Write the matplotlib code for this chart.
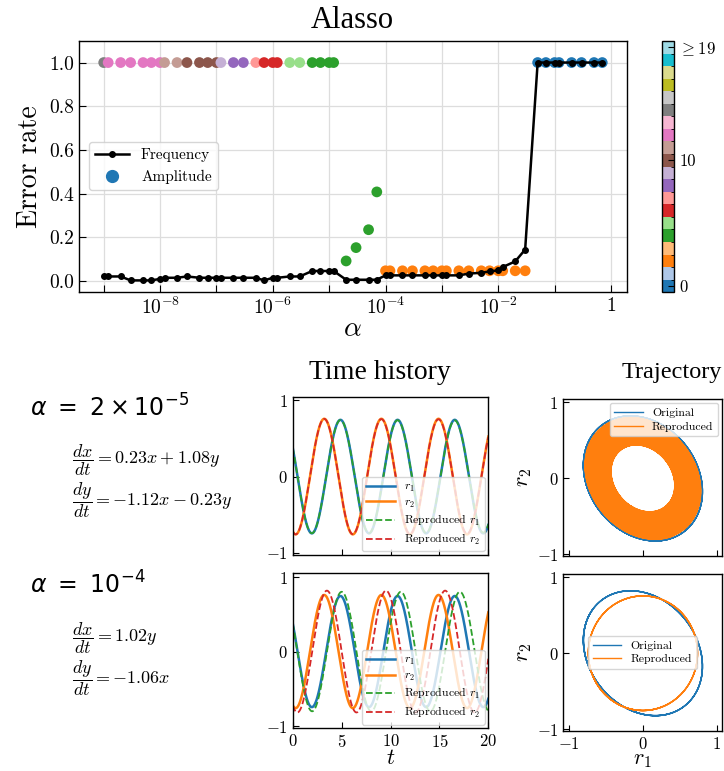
import numpy as np
import matplotlib
matplotlib.use('Agg')
import matplotlib.pyplot as plt
from matplotlib.colors import BoundaryNorm
from matplotlib.cm import ScalarMappable
from matplotlib.lines import Line2D
from matplotlib.ticker import FixedLocator, FixedFormatter

plt.rcParams['font.family'] = 'serif'
plt.rcParams['font.serif'] = ['cmr10']
plt.rcParams['mathtext.fontset'] = 'cm'
plt.rcParams['axes.formatter.use_mathtext'] = True
plt.rcParams['xtick.direction'] = 'in'
plt.rcParams['ytick.direction'] = 'in'
plt.rcParams['axes.linewidth'] = 1.0

# ---- error rate vs alpha ----
alphas = [1e-9, 1.2e-9, 2e-9, 3e-9, 5e-9, 7e-9,
          1e-8, 1.2e-8, 2e-8, 3e-8, 5e-8, 7e-8,
          1e-7, 1.2e-7, 2e-7, 3e-7, 5e-7, 7e-7,
          1e-6, 1.2e-6, 2e-6, 3e-6, 5e-6, 7e-6,
          1e-5, 1.2e-5, 2e-5, 3e-5, 5e-5, 7e-5,
          1e-4, 1.2e-4, 2e-4, 3e-4, 5e-4, 7e-4,
          1e-3, 1.2e-3, 2e-3, 3e-3, 5e-3, 7e-3,
          1e-2, 1.2e-2, 2e-2, 3e-2, 5e-2, 7e-2,
          0.1, 0.12, 0.2, 0.3, 0.5, 0.7]
freq_err = [0.021, 0.021, 0.021, 0.003, 0.003, 0.003,
            0.010, 0.015, 0.015, 0.021, 0.015, 0.015,
            0.015, 0.015, 0.015, 0.015, 0.015, 0.003,
            0.015, 0.015, 0.021, 0.021, 0.046, 0.046,
            0.046, 0.046, 0.006, 0.006, 0.006, 0.006,
            0.026, 0.026, 0.026, 0.026, 0.026, 0.026,
            0.026, 0.026, 0.026, 0.034, 0.038, 0.044,
            0.049, 0.064, 0.090, 0.144, 1.0, 1.0,
            1.0, 1.0, 1.0, 1.0, 1.0, 1.0]
amp_err = [1.0] * 26 + [0.092, 0.153, 0.235, 0.408] + [0.047] * 16 + [1.0] * 8
# number of terms (colour class, tab20 index)
amp_cls = [14, 12, 12, 12, 12, 12,
           12, 11, 11, 10, 10, 10,
           10, 9, 8, 8, 7, 6,
           6, 6, 5, 5, 4, 4,
           4, 4, 4, 4, 4, 4,
           2, 2, 2, 2, 2, 2,
           2, 2, 2, 2, 2, 2,
           2, 2, 2, 2, 0, 0,
           0, 0, 0, 0, 0, 0]
cbar_ticks = [0, 10, 19]
cbar_labels = ['0', '10', r'$\geq$19']

# ---- identified models (coefficients as printed in the figure) ----
x_init = [0.38, -0.72]
orig_A = [[0.23, 1.08], [-1.12, -0.23]]
rep1_A = [[0.23, 1.08], [-1.12, -0.2312]]   # unrounded value, slow inward drift
rep2_A = [[0.0, 1.02], [-1.06, 0.0]]
# start points of the trajectory panels
traj_init_orig = [0.41, -0.78]
traj_init_rep1 = [0.40, -0.76]
traj_init_rep2 = [0.35, -0.665]
t_end = 20.0
t_end_traj = 1000.0


def solve_linear(A, x0, t):
    w, V = np.linalg.eig(np.array(A, dtype=float))
    c = np.linalg.solve(V, np.array(x0, dtype=complex))
    return (V @ (c[:, None] * np.exp(np.outer(w, t)))).real


t = np.arange(0, t_end + 0.005, 0.01)
t_long = np.arange(0, t_end_traj, 0.02)
orig = solve_linear(orig_A, x_init, t)
rep1 = solve_linear(rep1_A, x_init, t)
rep2 = solve_linear(rep2_A, x_init, t)
orig_tr = solve_linear(orig_A, traj_init_orig, t)
rep1_tr = solve_linear(rep1_A, traj_init_rep1, t_long)
rep2_tr = solve_linear(rep2_A, traj_init_rep2, t)

fig = plt.figure(figsize=(7.24, 7.71), dpi=100)

# ---- top: error rate ----
cmap = plt.get_cmap('tab20')
norm = BoundaryNorm(np.arange(-0.5, 20.5, 1), cmap.N)

ax = fig.add_axes([0.1087, 0.6213, 0.7569, 0.3259])
ax.scatter(alphas, amp_err, c=[cmap(norm(k)) for k in amp_cls], s=60, zorder=2, linewidths=0)
ax.plot(alphas, freq_err, '-o', color='k', lw=1.8, ms=4, zorder=3)
ax.set_xscale('log')
ax.set_xlim(3.6e-10, 1.9)
ax.set_ylim(-0.05, 1.1)
dec = [10.0 ** k for k in range(-9, 1)]
ax.xaxis.set_major_locator(FixedLocator(dec))
ax.xaxis.set_major_formatter(FixedFormatter(['', r'$10^{-8}$', '', r'$10^{-6}$', '', r'$10^{-4}$', '',
                                             r'$10^{-2}$', '', r'$1$']))
ax.xaxis.set_minor_locator(FixedLocator([]))
ax.set_yticks([0, 0.2, 0.4, 0.6, 0.8, 1.0])
ax.set_yticklabels(['0.0', '0.2', '0.4', '0.6', '0.8', '1.0'])
ax.tick_params(labelsize=14, length=5)
ax.grid(True, color='#dddddd', lw=0.9)
ax.set_axisbelow(True)
ax.set_ylabel('Error rate', fontsize=20)
ax.set_xlabel(r'$\alpha$', fontsize=20, labelpad=-2)
ax.set_title('Alasso', fontsize=22, family='Liberation Serif', pad=9)
handles = [Line2D([], [], color='k', marker='o', lw=1.8, ms=4),
           Line2D([], [], color='tab:blue', marker='o', lw=0, ms=8.5)]
ax.legend(handles, ['Frequency', 'Amplitude'], loc='center left', bbox_to_anchor=(0.005, 0.5),
          fontsize=11, handlelength=2.2)

cax = fig.add_axes([0.9139, 0.6209, 0.0174, 0.326])
cb = fig.colorbar(ScalarMappable(norm=norm, cmap=cmap), cax=cax, ticks=cbar_ticks)
cb.set_ticklabels(cbar_labels)
cb.ax.tick_params(labelsize=12, direction='in', length=4)

# ---- left text ----
fig.text(0.041, 1 - 408 / 771, r'$\alpha\ =\ 2\times10^{-5}$', fontsize=17, va='center',
         math_fontfamily='dejavusans')
fig.text(0.100, 1 - 460 / 771, r'$\dfrac{dx}{dt}=0.23x+1.08y$', fontsize=13, va='center')
fig.text(0.100, 1 - 500 / 771, r'$\dfrac{dy}{dt}=-1.12x-0.23y$', fontsize=13, va='center')
fig.text(0.041, 1 - 585 / 771, r'$\alpha\ =\ 10^{-4}$', fontsize=17, va='center',
         math_fontfamily='dejavusans')
fig.text(0.100, 1 - 638 / 771, r'$\dfrac{dx}{dt}=1.02y$', fontsize=13, va='center')
fig.text(0.100, 1 - 678 / 771, r'$\dfrac{dy}{dt}=-1.06x$', fontsize=13, va='center')

fig.text(380 / 724, 1 - 372 / 771, 'Time history', fontsize=20, family='Liberation Serif', ha='center', va='center')
fig.text(672 / 724, 1 - 372 / 771, 'Trajectory', fontsize=17.5, family='Liberation Serif', ha='center', va='center')

# ---- time history ----
th_rows = [(0.2802, 0.2053, rep1), (0.0554, 0.2010, rep2)]
for i, (b, h, rep) in enumerate(th_rows):
    a = fig.add_axes([0.4043, b, 0.2702, h])
    a.plot(t, orig[0], color='tab:blue', lw=1.8, label=r'$r_1$')
    a.plot(t, orig[1], color='tab:orange', lw=1.8, label=r'$r_2$')
    a.plot(t, rep[0], '--', color='tab:green', lw=1.3, label=r'Reproduced $r_1$')
    a.plot(t, rep[1], '--', color='tab:red', lw=1.3, label=r'Reproduced $r_2$')
    a.set_xlim(0, 20)
    a.set_ylim(-1.03, 1.05)
    a.set_xticks([0, 5, 10, 15, 20])
    a.set_yticks([-1, 0, 1])
    a.tick_params(labelsize=12, length=4)
    a.legend(loc='lower right', fontsize=8.5, handlelength=2.4, borderaxespad=0.3, labelspacing=0.3)
    if i == 0:
        a.set_xticklabels([])
    else:
        a.set_xlabel(r'$t$', fontsize=16, labelpad=-1)

# ---- trajectory ----
tr_rows = [(0.2789, 0.2032, rep1_tr, 'upper right'), (0.0523, 0.2029, rep2_tr, 'center')]
for i, (b, h, rep, loc) in enumerate(tr_rows):
    a = fig.add_axes([0.778, b, 0.219, h])
    a.plot(orig_tr[0], orig_tr[1], color='tab:blue', lw=1.0, label='Original')
    a.plot(rep[0], rep[1], color='tab:orange', lw=1.0, label='Reproduced')
    a.set_xlim(-1.08, 1.07)
    a.set_ylim(-1.02, 1.04)
    a.set_xticks([-1, 0, 1])
    a.set_yticks([-1, 0, 1])
    a.tick_params(labelsize=12, length=4)
    a.set_ylabel(r'$r_2$', fontsize=16, labelpad=2)
    a.legend(loc=loc, fontsize=8.5, handlelength=2.4, borderaxespad=0.3, labelspacing=0.3)
    if i == 0:
        a.set_xticklabels([])
    else:
        a.set_xlabel(r'$r_1$', fontsize=16, labelpad=-1)

fig.savefig('out.png', dpi=100)
